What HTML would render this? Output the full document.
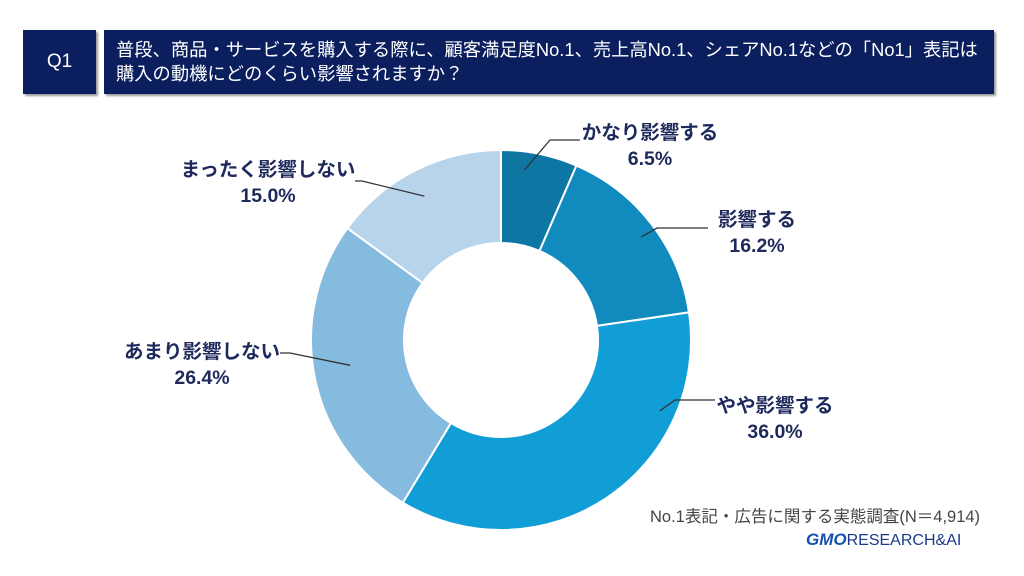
<!DOCTYPE html>
<html><head><meta charset="utf-8"><style>
body{margin:0;width:1024px;height:576px;background:#fff;overflow:hidden;font-family:"Liberation Sans","Noto Sans CJK JP",sans-serif;}
.box{position:absolute;background:#0b1f5e;color:#fff;box-shadow:2px 2px 2px #999;}
</style></head><body>
<div class="box" style="left:23px;top:30px;width:73px;height:64px;font-size:19px;line-height:64px;text-align:center;">Q1</div>
<div class="box" style="left:104px;top:30px;width:890px;height:64px;padding-left:12px;font-size:18.3px;line-height:24px;padding-top:8px;box-sizing:border-box;white-space:nowrap;">普段、商品・サービスを購入する際に、顧客満足度No.1、売上高No.1、シェアNo.1などの「No1」表記は<br>購入の動機にどのくらい影響されますか？</div>
<svg id="chart" width="1024" height="576" style="position:absolute;left:0;top:0"></svg>
<div style="position:absolute;left:650px;top:503px;font-size:16.5px;color:#444;white-space:nowrap;">No.1表記・広告に関する実態調査(N＝4,914)</div>
<div style="position:absolute;left:806px;top:530px;font-size:16px;color:#1a3a8a;white-space:nowrap;"><b style="font-style:italic;color:#1850b0;font-size:17px">GMO</b>RESEARCH&amp;AI</div>
<script>
const categories=["かなり影響する","影響する","やや影響する","あまり影響しない","まったく影響しない"];
const values=[6.5,16.2,36.0,26.4,15.0];
const colors=["#0e76a3","#118abe","#119ed6","#86bbe0","#b8d4eb"];
// label layout: start fraction within slice, start radius, elbow, line end, label center, first baseline
const layout=[
 {f:0.34,sr:172,ex:550,ey:140,hx:580,lx:650,ly:139},
 {f:0.52,sr:174,ex:657,ey:228,hx:708,lx:757,ly:226},
 {f:0.25,sr:174,ex:675,ey:400,hx:715,lx:775,ly:412},
 {f:0.52,sr:153,ex:290,ey:353,hx:280,lx:202,ly:358},
 {f:0.48,sr:163,ex:362,ey:181,hx:355,lx:268,ly:176}
];
const cx=501,cy=340,R=190,r=97;
const svg=document.getElementById('chart');
const NS='http://www.w3.org/2000/svg';
const total=values.reduce((a,b)=>a+b,0);
function pt(a,rad){return [cx+rad*Math.sin(a),cy-rad*Math.cos(a)];}
let acc=0;
values.forEach((v,i)=>{
 const a0=acc/total*2*Math.PI,a1=(acc+v)/total*2*Math.PI;acc+=v;
 const [x0,y0]=pt(a0,R),[x1,y1]=pt(a1,R),[x2,y2]=pt(a1,r),[x3,y3]=pt(a0,r);
 const lg=(a1-a0)>Math.PI?1:0;
 const p=document.createElementNS(NS,'path');
 p.setAttribute('d',`M${x0},${y0}A${R},${R} 0 ${lg} 1 ${x1},${y1}L${x2},${y2}A${r},${r} 0 ${lg} 0 ${x3},${y3}Z`);
 p.setAttribute('fill',colors[i]);p.setAttribute('stroke','#fff');p.setAttribute('stroke-width','2');
 
 
 svg.appendChild(p);
 const L=layout[i];
 const am=a0+(a1-a0)*L.f,[mx,my]=pt(am,L.sr);
 const l=document.createElementNS(NS,'polyline');
 l.setAttribute('points',`${mx},${my} ${L.ex},${L.ey} ${L.hx},${L.ey}`);
 l.setAttribute('fill','none');l.setAttribute('stroke','#333');l.setAttribute('stroke-width','1.3');
 
 
 svg.appendChild(l);
 [categories[i],v.toFixed(1)+'%'].forEach((s,k)=>{
  const t=document.createElementNS(NS,'text');
  t.setAttribute('x',L.lx);t.setAttribute('y',L.ly+k*26);
  t.setAttribute('text-anchor','middle');t.setAttribute('font-size','19.5');t.setAttribute('font-weight','bold');t.setAttribute('fill','#1f2a5c');
  
  
  t.textContent=s;svg.appendChild(t);
 });
});
</script>
</body></html>
